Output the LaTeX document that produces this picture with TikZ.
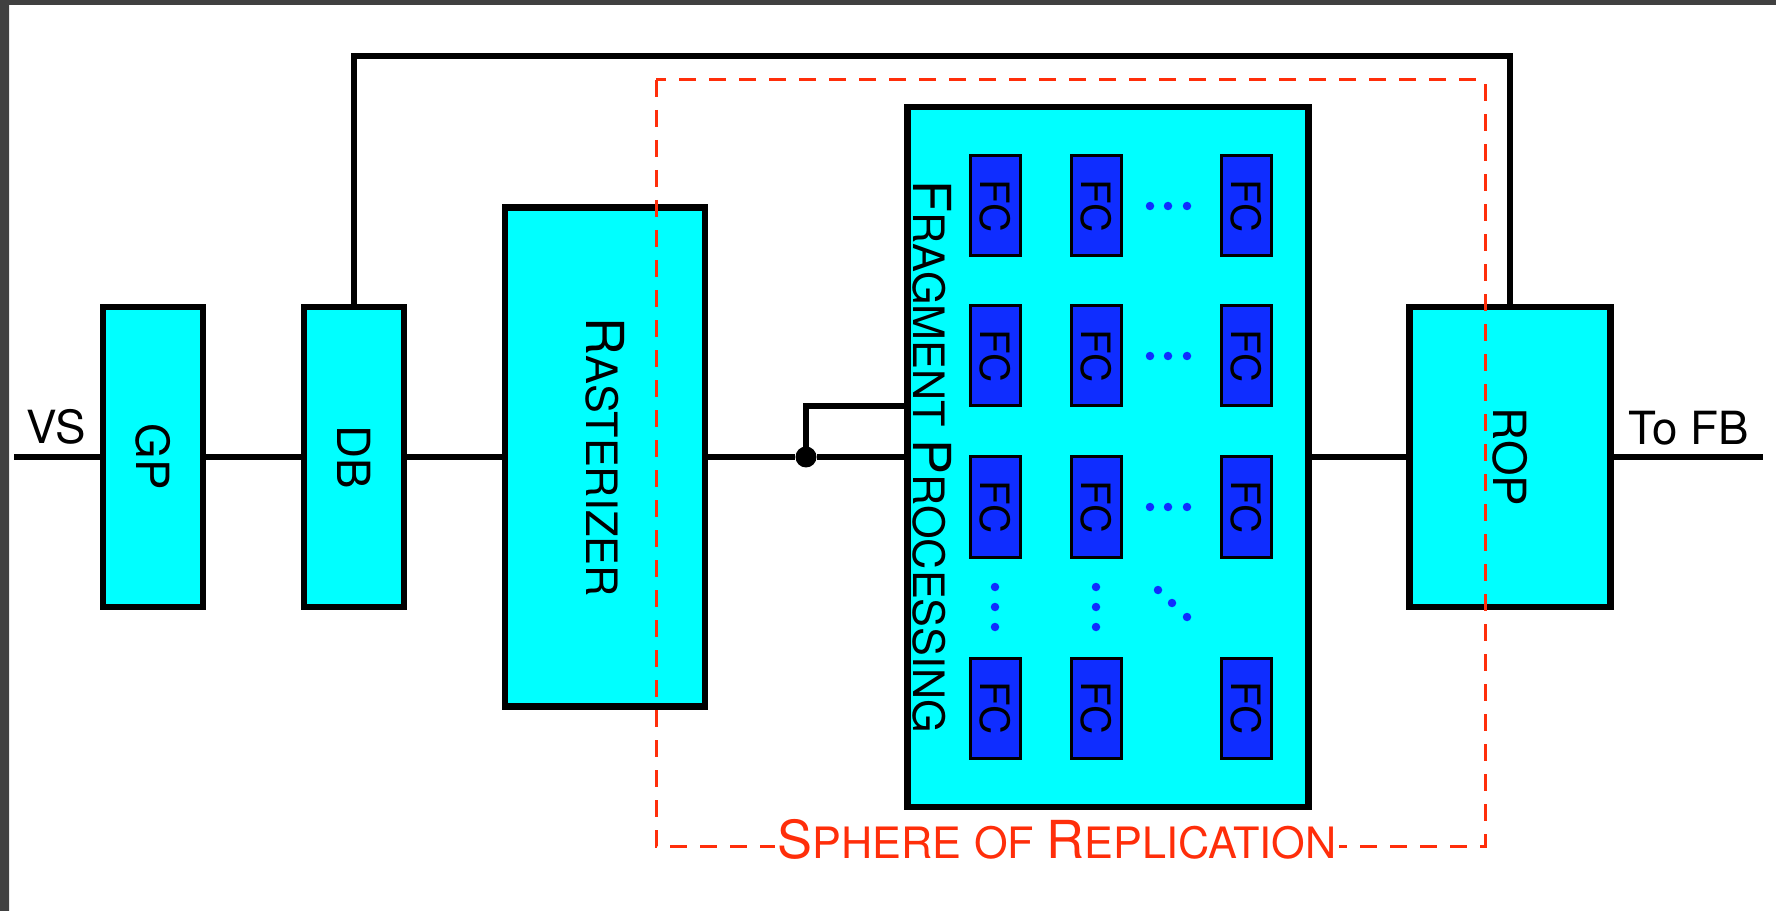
\documentclass[tikz,border=0pt]{standalone}
\usepackage{fontspec}
\setmainfont{TeX Gyre Heros}
\usetikzlibrary{positioning}
\definecolor{stagecyan}{HTML}{00FFFF}
\definecolor{fcblue}{HTML}{0F2DFF}
\definecolor{sorred}{HTML}{FF2E0A}
\definecolor{framegray}{HTML}{404040}
\newcommand{\smcap}[2]{{\fontsize{29.8}{32}\selectfont #1}{\fontsize{24.6}{26}\selectfont #2}}

\begin{document}
\begin{tikzpicture}[x=0.2mm, y=-0.2mm, font=\fontsize{26}{28}\selectfont,
    stage/.style={draw, line width=1.25mm, fill=stagecyan, inner sep=0pt},
    fcbox/.style={draw, line width=0.6mm, fill=fcblue, inner sep=0pt,
      minimum width=10mm, minimum height=20mm, font=\fontsize{23}{25}\selectfont},
    wire/.style={line width=1.05mm}]
  \useasboundingbox (0,0) rectangle (1776,911);
  % screenshot frame
  \fill[framegray] (0,0) rectangle (1776,5);
  \shade[top color=framegray, middle color=black!95, bottom color=black!75] (0,0) rectangle (9,911);

  % pipeline stages
  \node[stage, minimum width=20mm, minimum height=60mm] (gp) at (153,457) {\rotatebox{-90}{GP}};
  \node[stage, minimum width=20mm, minimum height=60mm] (db) at (354,457) {\rotatebox{-90}{DB}};
  \node[stage, minimum width=40mm, minimum height=99.8mm] (rast) at (605,457) {\rotatebox{-90}{\smcap{R}{ASTERIZER}}};
  \node[stage, minimum width=80.2mm, minimum height=140mm] (fp) at (1108,457) {};
  \node[stage, minimum width=40.2mm, minimum height=60mm] (rop) at (1510,457) {\rotatebox{-90}{ROP}};
  \node (fplabel) at (932,457) {\rotatebox{-90}{\smcap{F}{RAGMENT} \smcap{P}{ROCESSING}}};

  % fragment cores
  \foreach \c/\xx in {1/995,2/1096,3/1246}{
    \foreach \r/\yy in {1/206,2/356,3/507,4/708}{
      \node[fcbox] (fc\c\r) at (\xx,\yy) {\rotatebox{-90}{FC}};
    }
  }
  \foreach \yy in {206,356,507}{
    \foreach \xx in {1150,1168,1187}{
      \fill[fcblue] (\xx,\yy) circle[radius=0.85mm];
    }
  }
  \foreach \yy in {587,607,627}{
    \fill[fcblue] (995,\yy) circle[radius=0.85mm];
    \fill[fcblue] (1096,\yy) circle[radius=0.85mm];
  }
  \foreach \xx/\yy in {1158/590,1172/603,1187/617}{
    \fill[fcblue] (\xx,\yy) circle[radius=0.85mm];
  }

  % wiring
  \coordinate (vsin) at (14,457);
  \coordinate (fbout) at (1763,457);
  \node[circle, fill, inner sep=0pt, minimum size=4.2mm] (tap) at (806,457) {};
  \draw[wire] (vsin) -- (gp) -- (db) -- (rast) -- (tap) -- (fp) -- (rop) -- (fbout);
  \draw[wire] (tap.center) |- (fp.west |- 0,406);
  \draw[wire] (db.north) -- (db.north |- 0,56) -| (rop.north);
  \node[anchor=base] (vs) at (56,444) {VS};
  \node[anchor=base] (tofb) at (1689,445) {To FB};

  % sphere of replication
  \draw[sorred, line width=0.6mm, dash pattern=on 3.4mm off 2.6mm] (656,80) rectangle (1485,846);
  \node[fill=white, text=sorred, inner xsep=0.6mm, inner ysep=0pt, anchor=base] (sor) at (1057,858)
    {\smcap{S}{PHERE} {\fontsize{24.6}{26}\selectfont OF} \smcap{R}{EPLICATION}};
\end{tikzpicture}
\end{document}
